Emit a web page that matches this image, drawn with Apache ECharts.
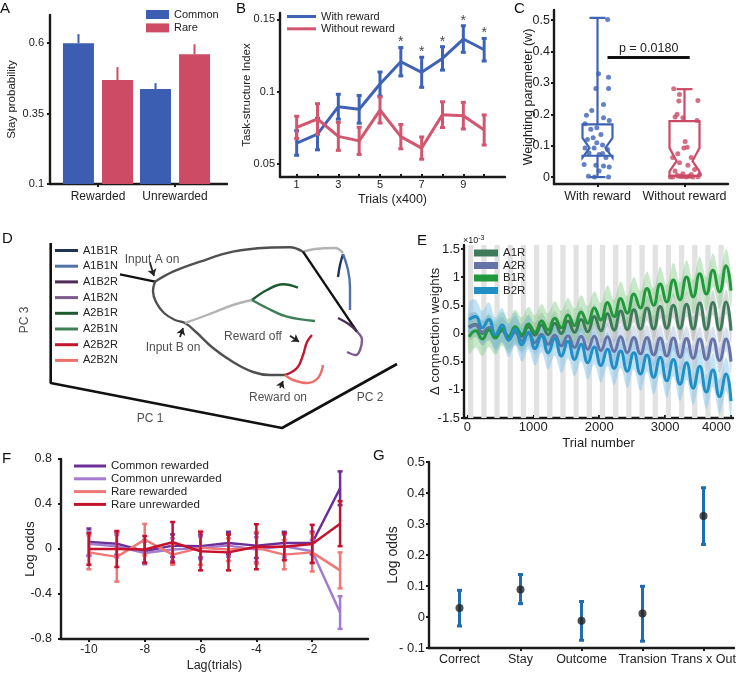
<!DOCTYPE html>
<html>
<head>
<meta charset="UTF-8">
<title>Two-step task RNN</title>
<script src="https://cdn.jsdelivr.net/npm/echarts@6.0.0/dist/echarts.min.js"></script>
<style>
body { margin: 0; background: #fff; }
#main { width: 740px; height: 674px; }
</style>
</head>
<body>
<div id="main"></div>
<script>
// ---------- A : stay probability
var aGroups = ['Rewarded', 'Unrewarded'];
var aCommon = [0.600, 0.437];
var aCommonErr = [0.032, 0.021];
var aRare = [0.469, 0.561];
var aRareErr = [0.046, 0.035];

// ---------- B : task-structure index
var bTrials = [1, 2, 3, 4, 5, 6, 7, 8, 9, 10];
var bWith = [0.0645, 0.0707, 0.0896, 0.0878, 0.1053, 0.1207, 0.1134, 0.1230, 0.1364, 0.1290];
var bWithErr = [0.0085, 0.0109, 0.0086, 0.0096, 0.0083, 0.0098, 0.0104, 0.0081, 0.0092, 0.0078];
var bWithout = [0.0753, 0.0811, 0.0691, 0.0660, 0.0873, 0.0689, 0.0610, 0.0841, 0.0834, 0.0735];
var bWithoutErr = [0.0077, 0.0106, 0.0097, 0.0094, 0.0090, 0.0084, 0.0077, 0.0089, 0.0092, 0.0104];
var bStarTrials = [6, 7, 8, 9, 10];

// ---------- C : weighting parameter
var cGroups = ['With reward', 'Without reward'];
// [min, q1, notchLow, median, notchHigh, q3, max]
var cWithBox = [0, 0.068, 0.062, 0.093, 0.125, 0.168, 0.507];
var cWithoutBox = [0, 0.004, 0.018, 0.051, 0.093, 0.178, 0.280];
var cWithJitter = [0.116, 0.012, 0.127, -0.019, 0.127, 0.069, -0.127, -0.066, -0.008, 0.069, -0.143, 0.135, -0.077, 0.039, -0.116, -0.008, 0.058, -0.143, -0.039, 0.116, -0.097, 0.019, 0.097, -0.154, -0.019, 0.069, 0.135, -0.104, 0.019, 0.127, -0.035, 0.058, -0.050];
var cWithW = [0.502, 0.329, 0.318, 0.282, 0.282, 0.231, 0.197, 0.212, 0.157, 0.189, 0.170, 0.180, 0.152, 0.136, 0.120, 0.109, 0.102, 0.093, 0.093, 0.088, 0.077, 0.072, 0.062, 0.040, 0.038, 0.035, 0.032, 0.003, 0.019, 0.000, 0.000, 0.075, 0.125];
var cWithoutJitter = [-0.124, -0.058, 0.154, -0.066, -0.085, -0.019, 0.143, -0.108, 0.008, -0.008, 0.031, -0.077, -0.135, 0.077, -0.058, 0.039, 0.116, -0.108, -0.019, 0.077, -0.058, 0.154, -0.135, 0.019, 0.097, -0.085, -0.162, 0.174, 0.050, -0.030];
var cWithoutW = [0.281, 0.263, 0.244, 0.242, 0.200, 0.189, 0.180, 0.191, 0.113, 0.093, 0.095, 0.074, 0.062, 0.062, 0.046, 0.038, 0.024, 0.019, 0.011, 0.008, 0.003, 0.001, 0.000, 0.000, 0.000, 0.006, 0.000, 0.008, 0.003, 0.002];
var cPLine = [1.115, 2.06, 0.38];
var cPText = 'p = 0.0180';

// ---------- D : PCA trajectories (projected picture coordinates)
var dFrame = [[50.7, 28], [50.7, 168], [282, 213], [397, 149]];
var dInputA = [[120, 59.3], [155, 66.7]];
var dUpperGray = [[155, 66.7], [173, 56.7], [200, 46.7], [233, 36.7], [267, 32.7], [290, 32.3], [303, 36.7]];
var dUpperLight = [[303, 36.7], [315, 34], [335, 33], [343, 38]];
var dDiagBlack = [[303, 36.7], [357, 116.7]];
var dLowerGray = [[155, 66.7], [153, 76], [156, 87], [164, 98], [175, 105], [185, 108], [196, 117], [213, 133], [233, 147], [253, 157], [270, 160], [285, 160]];
var dLowerLight = [[185, 108], [207, 100], [233, 90], [252, 85]];
var dA1B1R = [[338, 62], [340, 50], [343, 39]];
var dA1B1N = [[343, 39], [348, 55], [350, 72], [350, 95]];
var dA1B2R = [[338, 103], [350, 110], [357, 116.7]];
var dA1B2N = [[357, 116.7], [362, 125], [360, 135], [356, 140], [347, 137]];
var dA2B1R = [[252, 85], [267, 75], [283, 69.3], [298, 72.7]];
var dA2B1N = [[252, 85], [267, 93], [287, 101.7], [315, 106]];
var dA2B2R = [[285, 160], [297, 153], [303, 140], [307, 127], [312, 120]];
var dA2B2N = [[285, 160], [293, 165], [307, 168], [318, 163], [323, 150]];
var dLabels = [['Input A on', 152, 45], ['Input B on', 173, 133], ['Reward off', 253, 122], ['Reward on', 278, 183], ['PC 1', 150, 204], ['PC 2', 370, 183]];
var dArrows = [[[150, 48], [154, 61]], [[180, 122], [183, 113]], [[290, 120.7], [299, 126.7]], [[280, 173], [283, 166]]];

// ---------- E : connection weights (x 1e-3)
var eGrayBlocks = [[10, 90], [210, 290], [410, 490], [610, 690], [810, 890], [1010, 1090], [1210, 1290], [1410, 1490], [1610, 1690], [1810, 1890],
  [2010, 2090], [2210, 2290], [2410, 2490], [2610, 2690], [2810, 2890], [3010, 3090], [3210, 3290], [3410, 3490], [3610, 3690], [3810, 3890]];
var eCycleStarts = [0, 200, 400, 600, 800, 1000, 1200, 1400, 1600, 1800, 2000, 2200, 2400, 2600, 2800, 3000, 3200, 3400, 3600, 3800];
var eTroughLag = 25, ePeakLag = 125, eLastTrial = 4000;
var eA1RTroughs = [0.12, 0.00, -0.05, -0.06, -0.05, -0.03, -0.02, 0.00, 0.02, 0.03, 0.05, 0.06, 0.07, 0.08, 0.08, 0.09, 0.09, 0.08, 0.07, 0.06, 0.05];
var eA1RPeaks = [0.16, 0.10, 0.08, 0.10, 0.12, 0.15, 0.18, 0.22, 0.25, 0.30, 0.35, 0.40, 0.42, 0.45, 0.48, 0.50, 0.52, 0.54, 0.55, 0.56];
var eA2RTroughs = [0.10, 0.02, -0.06, -0.10, -0.13, -0.16, -0.19, -0.22, -0.25, -0.28, -0.30, -0.32, -0.34, -0.36, -0.38, -0.40, -0.42, -0.44, -0.46, -0.48, -0.50];
var eA2RPeaks = [0.15, 0.10, 0.05, 0.02, 0.00, -0.02, -0.03, -0.04, -0.05, -0.05, -0.06, -0.06, -0.07, -0.07, -0.08, -0.08, -0.09, -0.10, -0.10, -0.10];
var eB1RTroughs = [-0.06, -0.10, -0.08, -0.05, -0.02, 0.02, 0.06, 0.10, 0.14, 0.18, 0.24, 0.30, 0.36, 0.45, 0.50, 0.56, 0.60, 0.65, 0.70, 0.74, 0.76];
var eB1RPeaks = [0.05, 0.06, 0.08, 0.12, 0.17, 0.22, 0.27, 0.33, 0.38, 0.45, 0.55, 0.62, 0.70, 0.80, 0.88, 0.95, 1.00, 1.06, 1.12, 1.20];
var eB2RTroughs = [0.25, 0.10, -0.02, -0.12, -0.20, -0.27, -0.34, -0.40, -0.46, -0.52, -0.57, -0.62, -0.67, -0.72, -0.78, -0.84, -0.90, -0.97, -1.04, -1.12, -1.20];
var eB2RPeaks = [0.30, 0.25, 0.15, 0.08, 0.02, -0.04, -0.09, -0.14, -0.19, -0.24, -0.28, -0.31, -0.34, -0.38, -0.42, -0.46, -0.52, -0.58, -0.65, -0.72];
var eBandHalf = { A1R: 0.22, A2R: 0.22, B1R: 0.30, B2R: 0.30 };

// ---------- F : lagged regression
var fLags = [-10, -9, -8, -7, -6, -5, -4, -3, -2, -1];
var fCommonRew = [0.062, 0.047, -0.020, 0.030, 0.024, 0.053, 0.030, 0.053, 0.053, 0.540];
var fCommonRewErr = [0.12, 0.10, 0.10, 0.10, 0.10, 0.10, 0.11, 0.10, 0.10, 0.15];
var fCommonUnrew = [0.047, 0.025, -0.036, -0.005, 0.010, 0.030, -0.005, 0.025, -0.020, -0.565];
var fCommonUnrewErr = [0.11, 0.10, 0.10, 0.10, 0.10, 0.10, 0.11, 0.10, 0.10, 0.145];
var fRareRew = [-0.030, -0.070, 0.083, -0.050, 0.010, -0.005, 0.010, -0.050, -0.030, -0.190];
var fRareRewErr = [0.15, 0.22, 0.14, 0.09, 0.15, 0.10, 0.14, 0.13, 0.17, 0.16];
var fRareUnrew = [0.000, 0.000, -0.005, 0.060, -0.020, -0.030, 0.020, 0.020, 0.045, 0.225];
var fRareUnrewErr = [0.14, 0.16, 0.12, 0.18, 0.17, 0.16, 0.20, 0.12, 0.17, 0.20];

// ---------- G : regression coefficients
var gLabels = ['Correct', 'Stay', 'Outcome', 'Transion', 'Trans x Out'];
var gMean = [0.029, 0.089, -0.012, 0.011, 0.326];
var gLow = [-0.029, 0.043, -0.075, -0.078, 0.234];
var gHigh = [0.086, 0.137, 0.050, 0.099, 0.417];

var FONT = 'Liberation Sans, Arial, Helvetica, sans-serif';
var INK = '#1a1a1a';

function valAxis(grid, min, max, o) {
    o = o || {};
    var a = {
        type: 'value', gridIndex: grid, min: min, max: max,
        splitLine: { show: false },
        axisLine: { show: true, onZero: false, lineStyle: { color: INK, width: 2.4 } },
        axisTick: { show: true, inside: !!o.tickIn, length: 3, lineStyle: { color: INK, width: 2 } },
        axisLabel: { color: '#222', fontSize: o.fs || 12, margin: o.margin == null ? 5 : o.margin },
        nameLocation: 'middle', nameMoveOverlap: false,
        nameTextStyle: { color: '#222', fontSize: o.nfs || 12 }
    };
    if (o.interval) a.interval = o.interval;
    if (o.labels) a.axisLabel.customValues = o.labels;
    if (o.ticks) a.axisTick.customValues = o.ticks;
    if (o.alignMax) a.axisLabel.alignMaxLabel = o.alignMax;
    a.axisLabel.formatter = o.fmt || function (v) { return String(v); };
    if (o.name) { a.name = o.name; a.nameGap = o.gap; }
    if (o.inverse) a.inverse = true;
    if (o.hide) a.show = false;
    return a;
}

function errBars(capHalf, width, color) {
    return function (params, api) {
        var lo = api.coord([api.value(0), api.value(1)]);
        var hi = api.coord([api.value(0), api.value(2)]);
        var st = { stroke: color, lineWidth: width };
        return {
            type: 'group', children: [
                { type: 'line', shape: { x1: lo[0], y1: lo[1], x2: hi[0], y2: hi[1] }, style: st },
                { type: 'line', shape: { x1: lo[0] - capHalf, y1: lo[1], x2: lo[0] + capHalf, y2: lo[1] }, style: st },
                { type: 'line', shape: { x1: hi[0] - capHalf, y1: hi[1], x2: hi[0] + capHalf, y2: hi[1] }, style: st }
            ]
        };
    };
}

function upErr(dx, color) {
    return function (params, api) {
        var base = api.coord([api.value(0), api.value(1)]);
        var top = api.coord([api.value(0), api.value(2)]);
        return { type: 'line', shape: { x1: base[0] + dx, y1: base[1], x2: top[0] + dx, y2: top[1] }, style: { stroke: color, lineWidth: 2 } };
    };
}

function boxRender(color) {
    return function (params, api) {
        var x = api.value(0);
        var P = function (v, dx) { var c = api.coord([x, v]); return [c[0] + dx, c[1]]; };
        var hw = 15, nw = 8, cw = 8;
        var mn = api.value(1), q1 = api.value(2), nLo = api.value(3), md = api.value(4),
            nHi = api.value(5), q3 = api.value(6), mx = api.value(7);
        var st = { stroke: color, lineWidth: 2.2, fill: null };
        var poly = [P(q3, -hw), P(q3, hw), P(nHi, hw), P(md, nw), P(nLo, hw), P(q1, hw),
            P(q1, -hw), P(nLo, -hw), P(md, -nw), P(nHi, -hw)];
        function seg(a, b) { return { type: 'line', shape: { x1: a[0], y1: a[1], x2: b[0], y2: b[1] }, style: st }; }
        return {
            type: 'group', children: [
                { type: 'polygon', shape: { points: poly }, style: st },
                seg(P(q3, 0), P(mx, 0)), seg(P(mx, -cw), P(mx, cw)),
                seg(P(q1, 0), P(mn, 0)), seg(P(mn, -cw), P(mn, cw))
            ]
        };
    };
}

// mean curve of panel E: one trough and one peak per 200-trial cycle, then the value at the last trial
function wave(troughs, peaks) {
    var out = [];
    for (var k = 0; k < peaks.length; k++) {
        out.push([eCycleStarts[k] + eTroughLag, troughs[k]]);
        out.push([eCycleStarts[k] + ePeakLag, peaks[k]]);
    }
    out.push([eLastTrial, troughs[peaks.length]]);
    return out;
}

// shaded band (mean +- half width) drawn once as one smooth polygon
function bandRender(points, hw, color) {
    return function (params, api) {
        if (params.dataIndex !== 0) return null;
        var up = points.map(function (p) { return api.coord([p[0], p[1] + hw]); });
        var lo = points.map(function (p) { return api.coord([p[0], p[1] - hw]); }).reverse();
        return { type: 'polygon', shape: { points: up.concat(lo), smooth: 0.35 }, style: { fill: color } };
    };
}

var chart = echarts.init(document.getElementById('main'));

var grids = [
    { left: 50, top: 15, width: 177, height: 169 },
    { left: 280, top: 13, width: 225, height: 164 },
    { left: 554, top: 10, width: 174, height: 174 },
    { left: 0, top: 215, width: 400, height: 230 },
    { left: 464, top: 245, width: 269, height: 173 },
    { left: 61, top: 459, width: 307, height: 180 },
    { left: 429, top: 462, width: 305, height: 186 }
].map(function (g) { g.containLabel = false; g.outerBoundsMode = 'none'; return g; });

var xAxes = [
    valAxis(0, 0.377, 2.675, { labels: [1, 2], ticks: [1, 2], margin: 7, fmt: function (v) { return aGroups[Math.round(v) - 1]; } }),
    valAxis(1, 0.2, 11, { labels: [1, 3, 5, 7, 9], ticks: bTrials, tickIn: true, margin: 2, fs: 11, name: 'Trials (x400)', gap: 16, nfs: 12.5 }),
    valAxis(2, 0.5, 2.5, { labels: [1, 2], ticks: [1, 2], margin: 6, fs: 12.5, fmt: function (v) { return cGroups[Math.round(v) - 1]; } }),
    valAxis(3, 0, 400, { hide: true }),
    valAxis(4, -52, 4030, { labels: [0, 1000, 2000, 3000, 4000], ticks: [0, 1000, 2000, 3000, 4000], tickIn: true, margin: 3, fs: 13,
        alignMax: 'right', name: 'Trial number', gap: 19, nfs: 13 }),
    valAxis(5, -11, 0, { labels: [-10, -8, -6, -4, -2], ticks: [-10, -8, -6, -4, -2], margin: 5, fs: 12, name: 'Lag(trials)', gap: 20, nfs: 12.5 }),
    {
        type: 'category', gridIndex: 6, data: gLabels, boundaryGap: true,
        axisLine: { show: true, onZero: false, lineStyle: { color: INK, width: 2.4 } },
        axisTick: { show: true, alignWithLabel: true, length: 3, lineStyle: { color: INK, width: 2 } },
        axisLabel: { color: '#222', fontSize: 12.5, margin: 5, interval: 0 },
        splitLine: { show: false }
    }
];

var yAxes = [
    valAxis(0, 0.1, 0.7, { labels: [0.1, 0.35, 0.6], ticks: [0.1, 0.35, 0.6], margin: 6, fs: 11, name: 'Stay probability', gap: 32, nfs: 11.5 }),
    valAxis(1, 0.041, 0.1544, { labels: [0.05, 0.1, 0.15], ticks: [0.05, 0.1, 0.15], margin: 5, fs: 11, name: 'Task-structure Index', gap: 27, nfs: 11.5 }),
    valAxis(2, -0.022, 0.532, { labels: [0, 0.1, 0.2, 0.3, 0.4, 0.5], ticks: [0, 0.1, 0.2, 0.3, 0.4, 0.5], margin: 4, fs: 12.5, name: 'Weighting parameter (w)', gap: 19, nfs: 12.5 }),
    valAxis(3, 0, 230, { hide: true, inverse: true }),
    valAxis(4, -1.5, 1.57, { labels: [-1.5, -1, -0.5, 0, 0.5, 1, 1.5], ticks: [-1.5, -1, -0.5, 0, 0.5, 1, 1.5], margin: 4, fs: 13, name: '\u0394 connection weights', gap: 22, nfs: 13.5 }),
    valAxis(5, -0.8, 0.8, { interval: 0.4, margin: 9, fs: 12.5, name: 'Log odds', gap: 24, nfs: 13.5,
        fmt: function (v) { return String(Math.round(v * 10) / 10); } }),
    valAxis(6, -0.1, 0.5, { interval: 0.1, margin: 4, fs: 13, name: 'Log odds', gap: 29, nfs: 14,
        fmt: function (v) { var r = Math.round(v * 10) / 10; return r < 0 ? '- ' + Math.abs(r) : String(r); } })
];

var series = [];

// ----- A
var A_BLUE = '#3b5eb2', A_RED = '#cd4b64';
series.push({ type: 'bar', name: 'Common', xAxisIndex: 0, yAxisIndex: 0, color: A_BLUE, barWidth: 31, barGap: '26%',
    data: aCommon.map(function (v, i) { return [i + 1, v]; }), itemStyle: { color: A_BLUE } });
series.push({ type: 'bar', name: 'Rare', xAxisIndex: 0, yAxisIndex: 0, color: A_RED, barWidth: 31, barGap: '26%',
    data: aRare.map(function (v, i) { return [i + 1, v]; }), itemStyle: { color: A_RED } });
series.push({ type: 'custom', xAxisIndex: 0, yAxisIndex: 0, renderItem: upErr(-19.5, A_BLUE), z: 3,
    data: aCommon.map(function (v, i) { return [i + 1, v, v + aCommonErr[i]]; }) });
series.push({ type: 'custom', xAxisIndex: 0, yAxisIndex: 0, renderItem: upErr(19.5, A_RED), z: 3,
    data: aRare.map(function (v, i) { return [i + 1, v, v + aRareErr[i]]; }) });

// ----- B
var B_BLUE = '#3e63b6', B_RED = '#d2566f';
[[bWith, bWithErr, 'With reward', B_BLUE], [bWithout, bWithoutErr, 'Without reward', B_RED]].forEach(function (s, si) {
    series.push({ type: 'line', name: s[2], xAxisIndex: 1, yAxisIndex: 1, color: s[3], symbol: 'none', z: 3 + si,
        lineStyle: { width: 3, color: s[3] }, data: bTrials.map(function (t, i) { return [t, s[0][i]]; }) });
    series.push({ type: 'custom', xAxisIndex: 1, yAxisIndex: 1, renderItem: errBars(2.5, 3, s[3]), z: 3 + si,
        data: bTrials.map(function (t, i) { return [t, s[0][i] - s[1][i], s[0][i] + s[1][i]]; }) });
});
series.push({ type: 'scatter', xAxisIndex: 1, yAxisIndex: 1, symbolSize: 0, silent: true,
    label: { show: true, position: 'top', distance: -2, formatter: '*', fontSize: 14, color: '#111' },
    data: bStarTrials.map(function (t) { return [t, bWith[t - 1] + bWithErr[t - 1]]; }) });

// ----- C
var C_BLUE = '#3d63b4', C_RED = '#cc4a65';
series.push({ type: 'custom', xAxisIndex: 2, yAxisIndex: 2, renderItem: boxRender(C_BLUE), data: [[1].concat(cWithBox)], z: 2 });
series.push({ type: 'custom', xAxisIndex: 2, yAxisIndex: 2, renderItem: boxRender(C_RED), data: [[2].concat(cWithoutBox)], z: 2 });
series.push({ type: 'scatter', xAxisIndex: 2, yAxisIndex: 2, symbolSize: 5, itemStyle: { color: C_BLUE }, z: 3,
    data: cWithW.map(function (w, i) { return [1 + cWithJitter[i], w]; }),
    markLine: { silent: true, symbol: 'none', lineStyle: { color: '#111', width: 3, type: 'solid' },
        label: { show: true, position: 'insideMiddleTop', formatter: cPText, color: '#222', fontSize: 12.5, distance: 3 },
        data: [[{ coord: [cPLine[0], cPLine[2]] }, { coord: [cPLine[1], cPLine[2]] }]] } });
series.push({ type: 'scatter', xAxisIndex: 2, yAxisIndex: 2, symbolSize: 5, itemStyle: { color: C_RED }, z: 3,
    data: cWithoutW.map(function (w, i) { return [2 + cWithoutJitter[i], w]; }) });

// ----- D
function dLine(data, color, name, w, smooth) {
    var s = { type: 'line', xAxisIndex: 3, yAxisIndex: 3, data: data, symbol: 'none', smooth: smooth == null ? 0.4 : smooth, color: color,
        lineStyle: { color: color, width: w || 2.4 }, silent: true };
    if (name) s.name = name;
    return s;
}
series.push(dLine(dFrame, '#111', null, 2.6, false));
series.push(dLine(dInputA, '#111', null, 2.4, false));
series.push(dLine(dUpperGray, '#505050'));
series.push(dLine(dUpperLight, '#b3b3b3'));
series.push(dLine(dDiagBlack, '#111', null, 2.4, false));
series.push(dLine(dLowerGray, '#505050'));
series.push(dLine(dLowerLight, '#b3b3b3'));
var dNames = ['A1B1R', 'A1B1N', 'A1B2R', 'A1B2N', 'A2B1R', 'A2B1N', 'A2B2R', 'A2B2N'];
var dColors = ['#1f3358', '#4f72a8', '#4b2d55', '#7f5a8c', '#1d5a32', '#3f7f58', '#c3162f', '#ec716a'];
[dA1B1R, dA1B1N, dA1B2R, dA1B2N, dA2B1R, dA2B1N, dA2B2R, dA2B2N].forEach(function (d, i) {
    series.push(dLine(d, dColors[i], dNames[i]));
});
series.push({ type: 'lines', coordinateSystem: 'cartesian2d', xAxisIndex: 3, yAxisIndex: 3, silent: true,
    symbol: ['none', 'arrow'], symbolSize: 7, lineStyle: { color: '#222', width: 1.8, opacity: 1 },
    data: dArrows.map(function (a) { return { coords: a }; }) });
series.push({ type: 'scatter', xAxisIndex: 3, yAxisIndex: 3, symbolSize: 0, silent: true,
    label: { show: true, position: 'inside', color: '#222', fontSize: 12, formatter: function (p) { return p.data[2]; } },
    data: dLabels.map(function (l) { return [l[1], l[2], l[0]]; }) });
series.push({ type: 'scatter', xAxisIndex: 3, yAxisIndex: 3, symbolSize: 0, silent: true,
    label: { show: true, position: 'inside', rotate: 90, color: '#222', fontSize: 12, formatter: 'PC 3' },
    data: [[25, 105]] });

// ----- E
series.push({ type: 'line', xAxisIndex: 4, yAxisIndex: 4, data: [[0, 0]], symbol: 'none', silent: true,
    lineStyle: { opacity: 0 }, z: 1,
    markArea: { silent: true, itemStyle: { color: '#e2e2e2' },
        data: eGrayBlocks.map(function (b) { return [{ xAxis: b[0] }, { xAxis: b[1] }]; }) } });
var eSets = [
    ['A1R', eA1RTroughs, eA1RPeaks, '#3f7b5b', 'rgba(150,160,155,0.40)'],
    ['A2R', eA2RTroughs, eA2RPeaks, '#6573a6', 'rgba(150,175,215,0.38)'],
    ['B1R', eB1RTroughs, eB1RPeaks, '#22983c', 'rgba(130,205,135,0.45)'],
    ['B2R', eB2RTroughs, eB2RPeaks, '#1f8fc6', 'rgba(120,190,232,0.45)']
];
eSets.forEach(function (s) {
    var mean = wave(s[1], s[2]);
    series.push({ type: 'custom', xAxisIndex: 4, yAxisIndex: 4, silent: true, z: 2, clip: true,
        renderItem: bandRender(mean, eBandHalf[s[0]], s[4]), data: mean, encode: { x: 0, y: 1 } });
});
eSets.forEach(function (s) {
    series.push({ type: 'line', name: s[0], xAxisIndex: 4, yAxisIndex: 4, symbol: 'none', smooth: 0.5, z: 3, color: s[3],
        lineStyle: { width: 3, color: s[3] }, data: wave(s[1], s[2]) });
});

// ----- F
var fSets = [
    ['Common rewarded', fCommonRew, fCommonRewErr, '#6b2f97'],
    ['Common unrewarded', fCommonUnrew, fCommonUnrewErr, '#a17ccf'],
    ['Rare rewarded', fRareRew, fRareRewErr, '#ef7877'],
    ['Rare unrewarded', fRareUnrew, fRareUnrewErr, '#c5132f']
];
fSets.forEach(function (s, si) {
    series.push({ type: 'line', name: s[0], xAxisIndex: 5, yAxisIndex: 5, symbol: 'none', color: s[3], z: 3 + si,
        lineStyle: { width: 2.5, color: s[3] }, data: fLags.map(function (l, i) { return [l, s[1][i]]; }) });
    series.push({ type: 'custom', xAxisIndex: 5, yAxisIndex: 5, renderItem: errBars(2.5, 2.5, s[3]), z: 3 + si,
        data: fLags.map(function (l, i) { return [l, s[1][i] - s[2][i], s[1][i] + s[2][i]]; }) });
});

// ----- G
series.push({ type: 'custom', xAxisIndex: 6, yAxisIndex: 6, renderItem: errBars(2.5, 3, '#1f6db0'), z: 2,
    data: gLabels.map(function (l, i) { return [i, gLow[i], gHigh[i]]; }) });
series.push({ type: 'scatter', xAxisIndex: 6, yAxisIndex: 6, symbolSize: 8, itemStyle: { color: '#222' }, z: 3,
    data: gLabels.map(function (l, i) { return [i, gMean[i]]; }) });

function legendAt(names, left, top, w, h, gap, fs) {
    return { data: names, left: left, top: top, orient: 'vertical', icon: 'rect', itemWidth: w, itemHeight: h,
        itemGap: gap, padding: 0, selectedMode: false, textStyle: { fontSize: fs, color: '#222' } };
}

function letter(t, x, y) {
    return { type: 'text', left: x, top: y, style: { text: t, fontSize: 15, fill: '#111', fontFamily: FONT } };
}

chart.setOption({
    animation: false,
    textStyle: { fontFamily: FONT },
    grid: grids,
    xAxis: xAxes,
    yAxis: yAxes,
    legend: [
        legendAt(['Common', 'Rare'], 146, 9, 23, 9, 2.4, 11),
        legendAt(['With reward', 'Without reward'], 287, 11, 29, 3, 1.3, 11),
        legendAt(dNames, 55, 245, 23, 3, 4.7, 11),
        legendAt(['A1R', 'A2R', 'B1R', 'B2R'], 474, 247, 24, 7, 0.5, 11.5),
        legendAt(['Common rewarded', 'Common unrewarded', 'Rare rewarded', 'Rare unrewarded'], 74, 460, 32, 3, 0.8, 11.5)
    ],
    graphic: [
        letter('A', 0, 1), letter('B', 236, 1), letter('C', 514, 1), letter('D', 2, 231),
        letter('E', 417, 233), letter('F', 2, 451), letter('G', 373, 448),
        { type: 'text', left: 463, top: 235, style: { text: '{a|\u00d710}{b|-3}', fontFamily: FONT, fill: '#222',
            rich: { a: { fontSize: 9, fill: '#222' }, b: { fontSize: 7, fill: '#222', verticalAlign: 'top', padding: [0, 0, 4, 0] } } } }
    ],
    series: series
});
</script>
</body>
</html>
